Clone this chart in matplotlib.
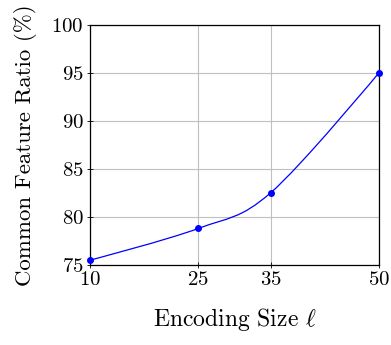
import numpy as np
import matplotlib
matplotlib.use("Agg")
import matplotlib.pyplot as plt
from matplotlib.path import Path
from matplotlib.patches import PathPatch

plt.rcParams["font.family"] = "serif"
plt.rcParams["font.serif"] = ["cmr10", "DejaVu Serif"]
plt.rcParams["mathtext.fontset"] = "cm"
plt.rcParams["axes.unicode_minus"] = False
plt.rcParams["axes.formatter.use_mathtext"] = True

# --- data
encoding_size = [10, 25, 35, 50]
common_ratio = [75.5, 78.8, 82.5, 95.0]


def smooth_path(xs, ys, tension=0.17):
    # tikz-style "smooth" bezier through the points
    pts = np.column_stack([xs, ys]).astype(float)
    n = len(pts)
    verts = [pts[0]]
    codes = [Path.MOVETO]
    for i in range(n - 1):
        p0 = pts[i]
        p1 = pts[i + 1]
        if i == 0:
            c1 = p0
        else:
            c1 = p0 + tension * (pts[i + 1] - pts[i - 1])
        if i + 1 == n - 1:
            c2 = p1
        else:
            c2 = p1 - tension * (pts[i + 2] - pts[i])
        verts += [c1, c2, p1]
        codes += [Path.CURVE4] * 3
    return Path(verts, codes)


fig = plt.figure(figsize=(3.91, 3.45), dpi=100)
ax = fig.add_axes([0.230, 0.232, 0.739, 0.696])

ax.add_patch(PathPatch(smooth_path(encoding_size, common_ratio),
                       facecolor="none", edgecolor="blue", linewidth=0.9, zorder=3))
ax.plot(encoding_size, common_ratio, linestyle="none", marker="o",
        markersize=4, color="blue", zorder=4, clip_on=False)

ax.set_xlim(10, 50)
ax.set_ylim(75, 100)
ax.set_xticks(encoding_size)
ax.set_yticks([75, 80, 85, 90, 95, 100])
ax.grid(True, color="#bfbfbf", linewidth=0.8)
ax.set_axisbelow(True)

ax.tick_params(direction="inout", length=5, width=0.6, labelsize=15, pad=2)
for s in ax.spines.values():
    s.set_linewidth(0.9)

ax.set_xlabel(r"Encoding Size $\ell$", fontsize=17, labelpad=12)
ax.set_ylabel("Common Feature Ratio (%)", fontsize=16.5, labelpad=10)

fig.savefig("out.png", dpi=100)
plt.close(fig)
